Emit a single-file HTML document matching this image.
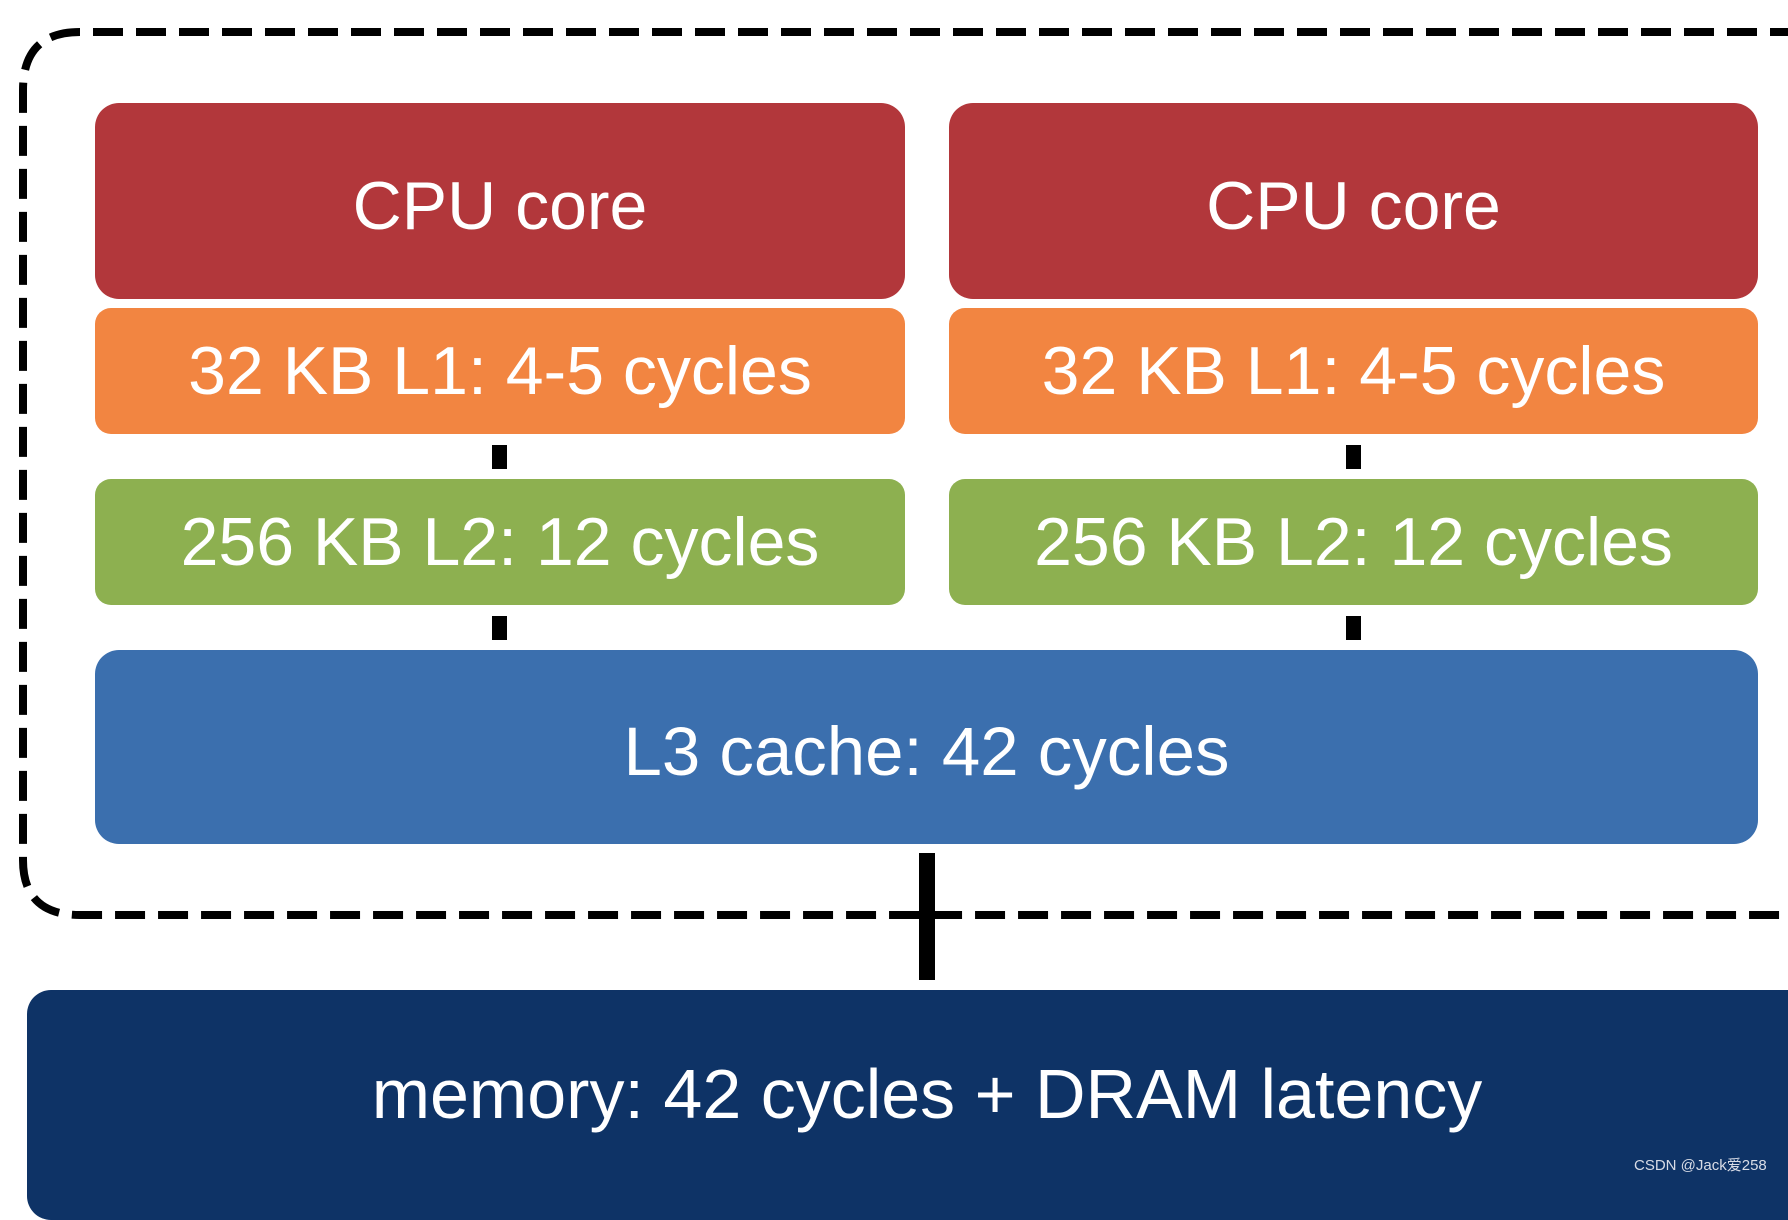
<!DOCTYPE html>
<html><head><meta charset="utf-8"><style>
html,body{margin:0;padding:0;background:#fff;}
body{width:1788px;height:1180px;position:relative;overflow:hidden;font-family:"Liberation Sans","Noto Sans CJK SC",sans-serif;}
.b{position:absolute;border-radius:24px;color:#fff;display:flex;align-items:center;justify-content:center;font-size:68px;}
.c{position:absolute;background:#000;}
</style></head><body>
<svg style="position:absolute;left:0;top:0" width="1788" height="1180">
<path d="M1800 32 H80 Q23 32 23 90 V860 Q23 915 80 915 H1800" fill="none" stroke="#000" stroke-width="8" stroke-dasharray="30 13"/>
</svg>
<div class="b" style="left:95px;top:103px;width:810px;height:196px;background:#b2373b;padding-top:10px;box-sizing:border-box;">CPU core</div>
<div class="b" style="left:949px;top:103px;width:809px;height:196px;background:#b2373b;padding-top:10px;box-sizing:border-box;">CPU core</div>
<div class="b" style="left:95px;top:308px;width:810px;height:126px;background:#f28541;border-radius:16px;">32 KB L1: 4-5 cycles</div>
<div class="b" style="left:949px;top:308px;width:809px;height:126px;background:#f28541;border-radius:16px;">32 KB L1: 4-5 cycles</div>
<div class="b" style="left:95px;top:479px;width:810px;height:126px;background:#8db050;border-radius:16px;">256 KB L2: 12 cycles</div>
<div class="b" style="left:949px;top:479px;width:809px;height:126px;background:#8db050;border-radius:16px;">256 KB L2: 12 cycles</div>
<div class="b" style="left:95px;top:650px;width:1663px;height:194px;background:#3b6fae;font-size:69px;padding-top:8px;box-sizing:border-box;">L3 cache: 42 cycles</div>
<div class="b" style="left:27px;top:990px;width:1800px;height:230px;background:#0e3366;"><span style="position:absolute;left:900px;top:104px;transform:translate(-50%,-50%);white-space:nowrap;font-size:70px;">memory: 42 cycles + DRAM latency</span></div>
<div class="c" style="left:492px;top:445px;width:15px;height:24px;"></div>
<div class="c" style="left:1346px;top:445px;width:15px;height:24px;"></div>
<div class="c" style="left:492px;top:616px;width:15px;height:24px;"></div>
<div class="c" style="left:1346px;top:616px;width:15px;height:24px;"></div>
<div class="c" style="left:919px;top:853px;width:16px;height:127px;"></div>
<div style="position:absolute;left:1634px;top:1154px;font-size:15px;color:#d8dce6;">CSDN @Jack爱258</div>
</body></html>
